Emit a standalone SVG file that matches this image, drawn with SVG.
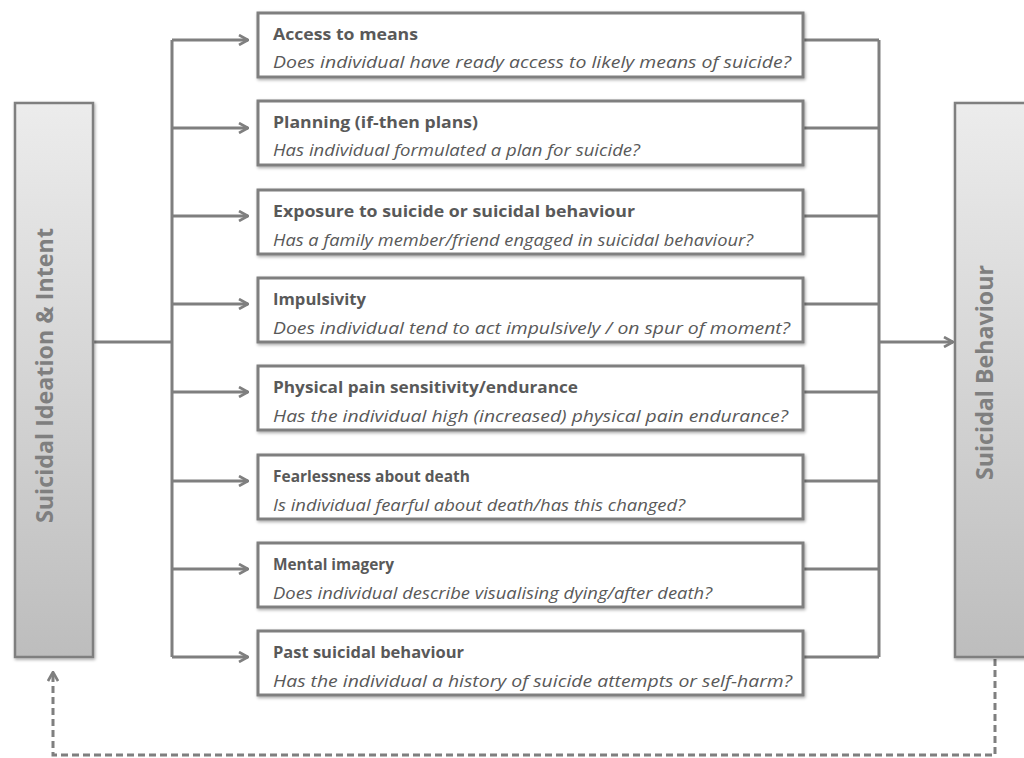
<svg xmlns="http://www.w3.org/2000/svg" width="1024" height="758" viewBox="0 0 1024 758">
<defs>
<linearGradient id="g" x1="0" y1="0" x2="0" y2="1">
<stop offset="0" stop-color="#ececec"/>
<stop offset="1" stop-color="#bdbdbd"/>
</linearGradient>
<filter id="sh" x="-10%" y="-10%" width="120%" height="130%">
<feDropShadow dx="1" dy="1.5" stdDeviation="1.5" flood-color="#000" flood-opacity="0.35"/>
</filter>
<marker id="ah" viewBox="0 0 12 12" refX="11" refY="6" markerWidth="12" markerHeight="12" markerUnits="userSpaceOnUse" orient="auto">
<path d="M2,1 L11,6 L2,11" fill="none" stroke="#7f7f7f" stroke-width="2.6"/>
</marker>
</defs>
<style>
.box{fill:#fff;stroke:#7f7f7f;stroke-width:3;filter:url(#sh)}
.side{fill:url(#g);stroke:#7f7f7f;stroke-width:2.5;filter:url(#sh)}
.t{font-family:"Open Sans","Liberation Sans",sans-serif;font-weight:bold;font-size:16.5px;fill:#595959}
.s{font-family:"Open Sans","Liberation Sans",sans-serif;font-style:italic;font-size:16.5px;fill:#595959}
.v{font-family:"Open Sans","Liberation Sans",sans-serif;font-weight:bold;font-size:23px;fill:#7f7f7f;text-anchor:middle}
.c{fill:none;stroke:#7f7f7f;stroke-width:3}
.d{fill:none;stroke:#7f7f7f;stroke-width:3;stroke-dasharray:7 4}
</style>
<g id="connectors">
<path class="c" d="M93,342 H172"/>
<path class="c" d="M172,40 V657"/>
<path class="c" d="M172,40 H248" marker-end="url(#ah)"/>
<path class="c" d="M172,128 H248" marker-end="url(#ah)"/>
<path class="c" d="M172,216 H248" marker-end="url(#ah)"/>
<path class="c" d="M172,304 H248" marker-end="url(#ah)"/>
<path class="c" d="M172,392 H248" marker-end="url(#ah)"/>
<path class="c" d="M172,481 H248" marker-end="url(#ah)"/>
<path class="c" d="M172,569 H248" marker-end="url(#ah)"/>
<path class="c" d="M172,657 H248" marker-end="url(#ah)"/>
<path class="c" d="M803,40 H879 M803,128 H879 M803,216 H879 M803,304 H879 M803,392 H879 M803,481 H879 M803,569 H879 M803,657 H879"/>
<path class="c" d="M879,40 V657"/>
<path class="c" d="M879,342 H953" marker-end="url(#ah)"/>
<path class="d" d="M995,659 V755 H53 V672" marker-end="url(#ah)"/>
</g>
<g id="node-ideation">
<rect class="side" x="15" y="103" width="78" height="554"/>
<text class="v" transform="translate(53,375.5) rotate(-90)" textLength="295" lengthAdjust="spacingAndGlyphs">Suicidal Ideation &amp; Intent</text>
</g>
<g id="node-behaviour">
<rect class="side" x="955" y="103" width="80" height="554"/>
<text class="v" transform="translate(993,372.5) rotate(-90)" textLength="215" lengthAdjust="spacingAndGlyphs">Suicidal Behaviour</text>
</g>
<g id="node-1">
<rect class="box" x="258" y="13" width="545" height="64"/>
<text class="t" x="273" y="40" textLength="145" lengthAdjust="spacingAndGlyphs">Access to means</text>
<text class="s" x="273" y="68" textLength="518" lengthAdjust="spacingAndGlyphs">Does individual have ready access to likely means of suicide?</text>
</g>
<g id="node-2">
<rect class="box" x="258" y="101" width="545" height="64"/>
<text class="t" x="273" y="128" textLength="205" lengthAdjust="spacingAndGlyphs">Planning (if-then plans)</text>
<text class="s" x="273" y="156" textLength="367" lengthAdjust="spacingAndGlyphs">Has individual formulated a plan for suicide?</text>
</g>
<g id="node-3">
<rect class="box" x="258" y="190" width="545" height="64"/>
<text class="t" x="273" y="217" textLength="362" lengthAdjust="spacingAndGlyphs">Exposure to suicide or suicidal behaviour</text>
<text class="s" x="273" y="246" textLength="480" lengthAdjust="spacingAndGlyphs">Has a family member/friend engaged in suicidal behaviour?</text>
</g>
<g id="node-4">
<rect class="box" x="258" y="278" width="545" height="64"/>
<text class="t" x="273" y="305" textLength="93" lengthAdjust="spacingAndGlyphs">Impulsivity</text>
<text class="s" x="273" y="334" textLength="517" lengthAdjust="spacingAndGlyphs">Does individual tend to act impulsively / on spur of moment?</text>
</g>
<g id="node-5">
<rect class="box" x="258" y="366" width="545" height="64"/>
<text class="t" x="273" y="393" textLength="305" lengthAdjust="spacingAndGlyphs">Physical pain sensitivity/endurance</text>
<text class="s" x="273" y="422" textLength="515" lengthAdjust="spacingAndGlyphs">Has the individual high (increased) physical pain endurance?</text>
</g>
<g id="node-6">
<rect class="box" x="258" y="455" width="545" height="64"/>
<text class="t" x="273" y="482" textLength="197" lengthAdjust="spacingAndGlyphs">Fearlessness about death</text>
<text class="s" x="273" y="511" textLength="412" lengthAdjust="spacingAndGlyphs">Is individual fearful about death/has this changed?</text>
</g>
<g id="node-7">
<rect class="box" x="258" y="543" width="545" height="64"/>
<text class="t" x="273" y="570" textLength="121" lengthAdjust="spacingAndGlyphs">Mental imagery</text>
<text class="s" x="273" y="599" textLength="439" lengthAdjust="spacingAndGlyphs">Does individual describe visualising dying/after death?</text>
</g>
<g id="node-8">
<rect class="box" x="258" y="631" width="545" height="64"/>
<text class="t" x="273" y="658" textLength="191" lengthAdjust="spacingAndGlyphs">Past suicidal behaviour</text>
<text class="s" x="273" y="687" textLength="519" lengthAdjust="spacingAndGlyphs">Has the individual a history of suicide attempts or self-harm?</text>
</g>
</svg>
